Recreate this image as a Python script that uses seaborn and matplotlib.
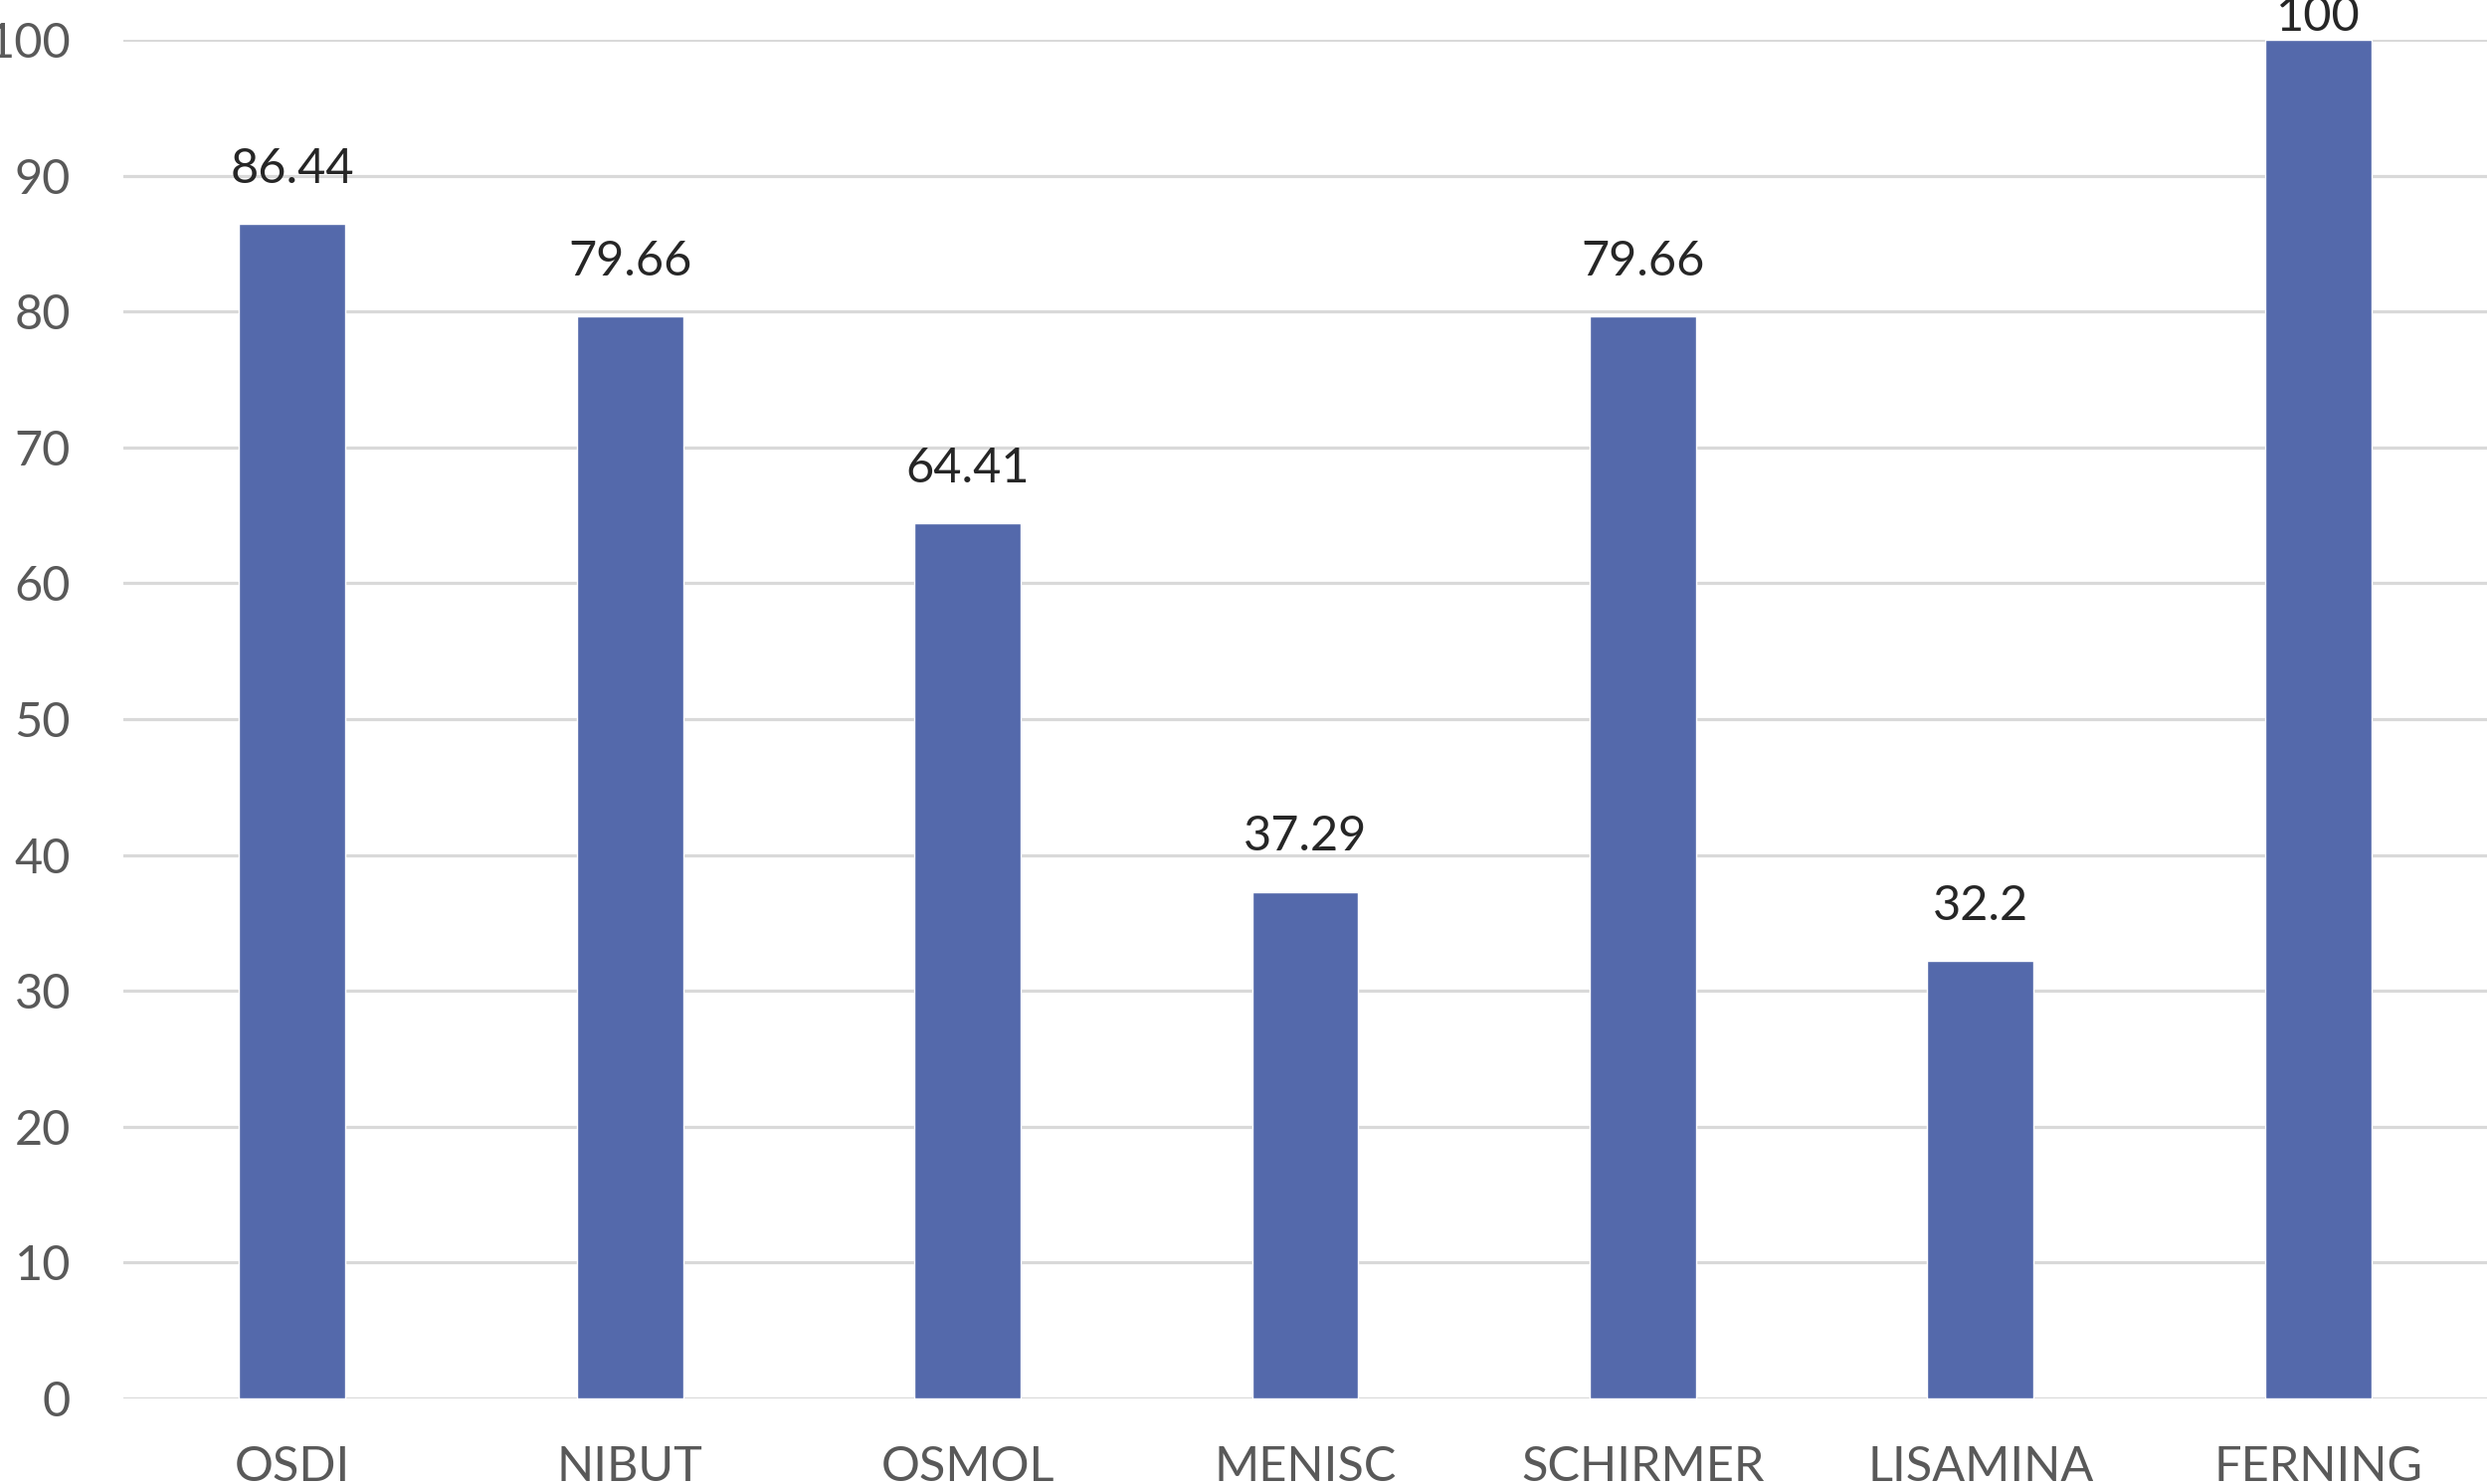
#!/usr/bin/env python3
"""Bar chart of test percentages."""
import matplotlib
matplotlib.use("Agg")
import matplotlib.pyplot as plt
import pandas as pd
import seaborn as sns

categories = ["OSDI", "NIBUT", "OSMOL", "MENISC", "SCHIRMER", "LISAMINA", "FERNING"]
values = [86.44, 79.66, 64.41, 37.29, 79.66, 32.2, 100]
value_labels = ["86.44", "79.66", "64.41", "37.29", "79.66", "32.2", "100"]
y_ticks = [0, 10, 20, 30, 40, 50, 60, 70, 80, 90, 100]

sns.set_theme(style="white")
plt.rcParams["font.family"] = ["Lato", "DejaVu Sans"]

df = pd.DataFrame({"cat": categories, "val": values})

fig = plt.figure(figsize=(25, 14.92), dpi=100)
ax = fig.add_axes([0.0496, 0.0576, 0.9504, 0.9156])

sns.barplot(data=df, x="cat", y="val", ax=ax, color="#5469AB",
            saturation=1, width=0.315, zorder=3)

ax.set_ylim(0, 100)
ax.set_xlim(-0.5, 6.5)
ax.set_yticks(y_ticks)
ax.yaxis.grid(True, color="#D9D9D9", linewidth=2.3, zorder=0)
ax.set_axisbelow(True)
for s in ax.spines.values():
    s.set_visible(False)
ax.tick_params(axis="y", length=0, pad=38, labelsize=35, labelcolor="#595959")
ax.tick_params(axis="x", length=0, pad=34, labelsize=35, labelcolor="#595959")
ax.set_xlabel("")
ax.set_ylabel("")

# labels above bars; the full-height bar gets its label squeezed onto the top
bars = ax.containers[0]
top = max(values)
ax.bar_label(bars, labels=[t if v < top else "" for t, v in zip(value_labels, values)],
             padding=24, fontsize=35, color="#262626")
ax.bar_label(bars, labels=[t if v == top else "" for t, v in zip(value_labels, values)],
             padding=1, fontsize=35, color="#262626", annotation_clip=False)

fig.savefig("out.png", dpi=100)
